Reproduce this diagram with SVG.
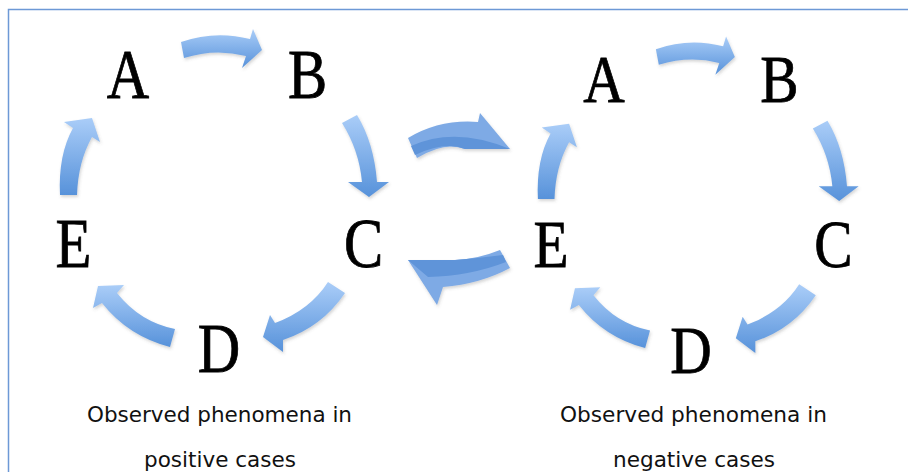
<svg xmlns="http://www.w3.org/2000/svg" width="908" height="472" viewBox="0 0 908 472">
<defs>
<linearGradient id="cyc" x1="0" y1="0" x2="0" y2="1">
<stop offset="0" stop-color="#aacdf8"/>
<stop offset="1" stop-color="#5792da"/>
</linearGradient>
<filter id="sh" x="-20%" y="-20%" width="140%" height="140%">
<feDropShadow dx="1" dy="2" stdDeviation="1.5" flood-color="#555" flood-opacity="0.25"/>
</filter>
<style>
.letter{font-family:"Liberation Serif","Times New Roman",serif;font-size:70px;fill:#000;stroke:#000;stroke-width:0.8px;text-anchor:middle}
.caption{font-family:"DejaVu Sans","Liberation Sans",sans-serif;font-size:22px;fill:#111;text-anchor:middle}
.cyc{fill:url(#cyc);filter:url(#sh)}
.ex{fill:#7eaae5;filter:url(#sh)}
.exd{fill:#5f94d9}
.frame{fill:none;stroke:#6d99d6;stroke-width:1.5}
</style>
</defs>
<rect x="0" y="0" width="908" height="472" fill="#fff"/>
<path class="frame" d="M8.5,472 V9.5 H908"/>

<g id="connectors">
<g id="left-arrows">
<path class="cyc" d="M181,42 Q215,30 250,39 L253,29 L262,50 L242,68 L246,56 Q215,48 184,58 Z"/>
<path class="cyc" d="M342,123 L357,115 Q374,143 377,182 L389,182 L369,197 L348,182 L362,182 Q359,150 342,123 Z"/>
<path class="cyc" d="M328,282 L345,293 Q322,327 283,340 L283,352 L263,337 L270,315 L275,323 Q310,310 328,282 Z"/>
<path class="cyc" d="M175,329 Q140,322 117,293 L124,285 L98,286 L93,308 L102,303 Q128,336 170,347 Z"/>
<path class="cyc" d="M60,195 Q58,155 73,128 L64,122 L92,118 L100,142 L92,137 Q78,162 77,195 Z"/>
</g>
<g id="right-arrows" transform="matrix(0.975 0 0 0.98 479.4 8)">
<path class="cyc" d="M181,42 Q215,30 250,39 L253,29 L262,50 L242,68 L246,56 Q215,48 184,58 Z"/>
<path class="cyc" d="M342,123 L357,115 Q374,143 377,182 L389,182 L369,197 L348,182 L362,182 Q359,150 342,123 Z"/>
<path class="cyc" d="M328,282 L345,293 Q322,327 283,340 L283,352 L263,337 L270,315 L275,323 Q310,310 328,282 Z"/>
<path class="cyc" d="M175,329 Q140,322 117,293 L124,285 L98,286 L93,308 L102,303 Q128,336 170,347 Z"/>
<path class="cyc" d="M60,195 Q58,155 73,128 L64,122 L92,118 L100,142 L92,137 Q78,162 77,195 Z"/>
</g>
<g id="exchange-right">
<path class="ex" d="M408,138 Q440,119 478,122 L480,113 L510,149 L465,149 Q445,141 417,158 Z"/>
<path class="exd" d="M411,146 Q455,126 510,149 L465,149 Q445,141 415,155 Z"/>
</g>
<g id="exchange-left">
<path class="ex" d="M500,250 L510,268 Q480,284 443,287 L437,305 L408,260 L455,260 Q478,259 500,250 Z"/>
<path class="exd" d="M408,260 L455,260 Q480,258 503,255 L506,262 Q470,276 428,277 Z"/>
</g>
</g>

<g id="positive-cases">
<g id="node-A1"><text class="letter" transform="translate(128,98) scale(0.84,1)">A</text></g>
<g id="node-B1"><text class="letter" transform="translate(307.5,98) scale(0.84,1)">B</text></g>
<g id="node-C1"><text class="letter" transform="translate(363.5,267) scale(0.84,1)">C</text></g>
<g id="node-D1"><text class="letter" transform="translate(219,372) scale(0.84,1)">D</text></g>
<g id="node-E1"><text class="letter" transform="translate(73.5,267) scale(0.84,1)">E</text></g>
<g id="caption-positive">
<text class="caption" x="219.5" y="422" textLength="265" lengthAdjust="spacingAndGlyphs">Observed phenomena in</text>
<text class="caption" x="220" y="467" textLength="152" lengthAdjust="spacingAndGlyphs">positive cases</text>
</g>
</g>

<g id="negative-cases">
<g id="node-A2"><text class="letter" transform="translate(604,102) scale(0.82,0.96)">A</text></g>
<g id="node-B2"><text class="letter" transform="translate(779.5,102) scale(0.82,0.96)">B</text></g>
<g id="node-C2"><text class="letter" transform="translate(833.5,267) scale(0.82,0.96)">C</text></g>
<g id="node-D2"><text class="letter" transform="translate(691,373) scale(0.82,0.96)">D</text></g>
<g id="node-E2"><text class="letter" transform="translate(551,267) scale(0.82,0.96)">E</text></g>
<g id="caption-negative">
<text class="caption" x="693.5" y="422" textLength="267" lengthAdjust="spacingAndGlyphs">Observed phenomena in</text>
<text class="caption" x="694" y="467" textLength="162" lengthAdjust="spacingAndGlyphs">negative cases</text>
</g>
</g>
</svg>
